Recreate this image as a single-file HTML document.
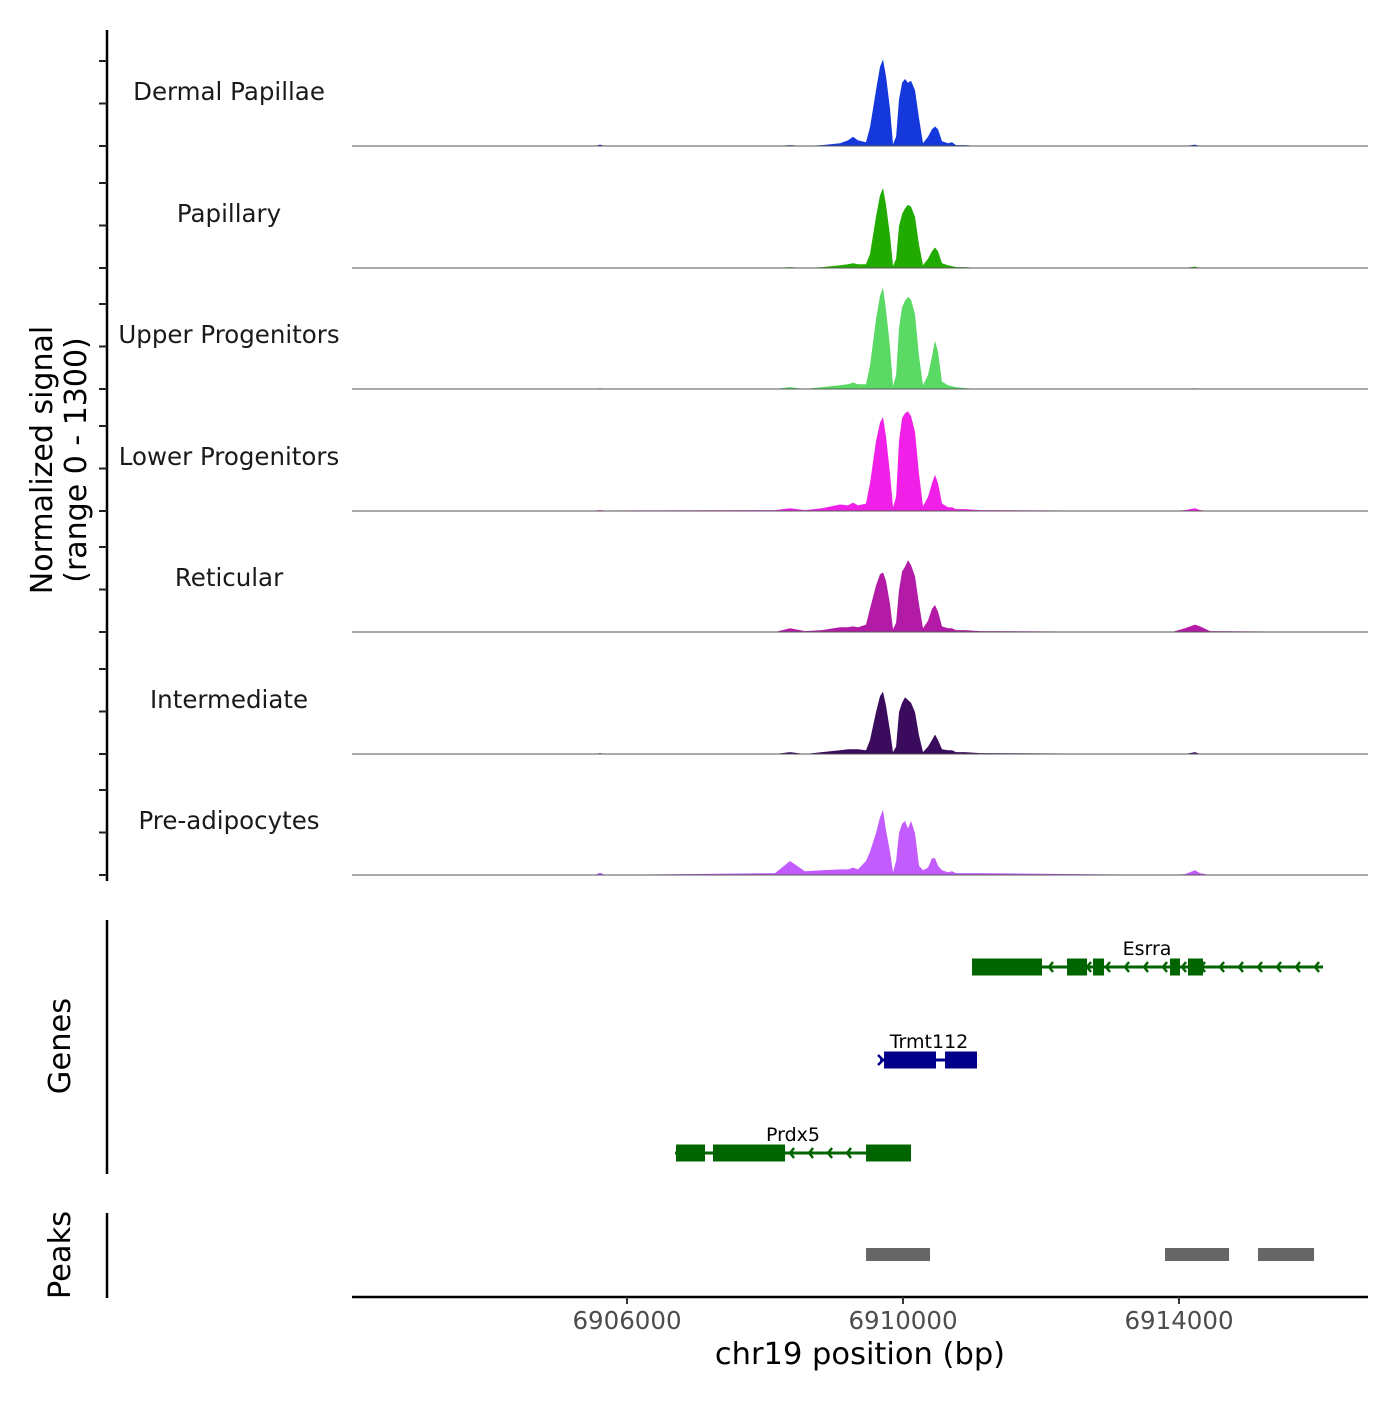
<!DOCTYPE html>
<html><head><meta charset="utf-8"><style>
body{margin:0;background:#fff;}
svg text{font-family:"DejaVu Sans","Liberation Sans",sans-serif;}
</style></head><body>
<svg id="chart" xmlns="http://www.w3.org/2000/svg" width="1400" height="1400" viewBox="0 0 1400 1400">
<rect width="1400" height="1400" fill="#fff"/>
<g id="tracks"></g>
<g id="genes"></g>
<g id="peaks"></g>
<g id="axes"></g>
</svg>
<script>
const trackNames = ["Dermal Papillae","Papillary","Upper Progenitors","Lower Progenitors","Reticular","Intermediate","Pre-adipocytes"];
const trackColors = ["#1438dc","#21ab00","#5ad964","#f020e8","#b31aa6","#3b0c5e","#c25cff"];
const positions = [6902014,6905536,6905609,6905681,6908145,6908362,6908580,6908826,6909087,6909203,6909275,6909348,6909464,6909522,6909609,6909667,6909710,6909754,6909812,6909855,6909899,6909942,6909986,6910029,6910072,6910116,6910174,6910232,6910290,6910362,6910420,6910464,6910507,6910565,6910652,6910710,6910768,6910899,6911116,6913900,6914087,6914232,6914304,6914449,6916739];
const sigDermal = [0,0,15,0,0,10,0,10,30,60,100,60,40,200,600,850,930,750,400,20,100,500,680,720,680,700,600,300,30,100,180,210,180,50,30,40,10,10,0,0,0,15,0,0,0];
const sigPapillary = [0,0,5,0,0,10,0,10,30,40,50,40,40,150,550,780,860,680,350,20,100,450,580,640,680,660,550,250,30,100,180,220,180,50,30,20,10,10,0,0,0,15,0,0,0];
const sigUpper = [0,0,10,0,0,20,0,20,40,50,70,50,50,250,750,1000,1090,850,450,30,150,650,880,950,990,960,800,350,40,150,350,520,400,80,40,30,20,10,0,0,0,10,0,0,0];
const sigLower = [0,5,10,5,10,30,10,30,70,60,90,60,80,300,750,950,1010,800,400,40,150,750,1000,1050,1070,1020,850,400,50,150,300,390,300,80,40,40,20,20,10,0,10,30,10,0,0];
const sigReticular = [0,0,5,0,0,40,10,20,50,50,60,50,80,250,500,620,640,550,300,30,100,450,650,700,770,720,600,300,40,120,250,290,220,60,40,40,20,20,10,0,40,80,60,10,0];
const sigIntermediate = [0,0,10,0,0,20,0,20,40,50,50,50,40,150,450,620,670,520,250,20,80,450,550,610,580,550,450,200,20,80,150,210,150,50,40,40,20,20,10,0,0,20,0,0,0];
const sigPreadipo = [0,0,25,0,20,150,40,50,60,60,80,60,150,250,450,620,700,480,250,30,150,450,550,580,500,580,450,100,50,80,180,180,100,50,30,40,20,20,20,0,10,50,20,0,0];
const signals = [sigDermal,sigPapillary,sigUpper,sigLower,sigReticular,sigIntermediate,sigPreadipo];
const xTicks = [6906000,6910000,6914000];
const xTickLabels = ["6906000","6910000","6914000"];
const geneNames = ["Esrra","Trmt112","Prdx5"];
const geneStarts = [6911000,6909667,6906696];
const geneEnds = [6916087,6911072,6910116];
const geneColors = ["#006400","#00008b","#006400"];
const geneExons = [
 [[6911000,6912014],[6912377,6912667],[6912754,6912913],[6913870,6914014],[6914130,6914348]],
 [[6909725,6910478],[6910609,6911072]],
 [[6906710,6907130],[6907246,6908290],[6909464,6910116]]
];
const peakStarts = [6909464,6913797,6915145];
const peakEnds = [6910391,6914725,6915957];

const NS="http://www.w3.org/2000/svg";
const X0=352,X1=1368,BP0=6902014,BP1=6916739;
function xs(bp){return X0+(bp-BP0)/(BP1-BP0)*(X1-X0);}
function ys(v){return v*121/1300;}
function el(tag,attrs,parent){const e=document.createElementNS(NS,tag);for(const k in attrs)e.setAttribute(k,attrs[k]);parent.appendChild(e);return e;}
const tracks=document.getElementById('tracks');
const baselines=[146,268,389,511,632,754,875];
trackNames.forEach((name,i)=>{
  const b=baselines[i];
  let d="M"+xs(positions[0])+","+b;
  signals[i].forEach((v,j)=>{d+=" L"+xs(positions[j]).toFixed(1)+","+(b-ys(v)).toFixed(1);});
  d+=" L"+xs(positions[positions.length-1])+","+b+" Z";
  const p=el('path',{d:d,fill:trackColors[i]},tracks);
  
  
  const bl=el('line',{x1:X0,x2:X1,y1:b,y2:b,stroke:'#555','stroke-width':1},tracks);
  
  
  const t=el('text',{x:229,y:b-46,'text-anchor':'middle','font-size':24.5,fill:'#1a1a1a'},tracks);
  t.textContent=name;
  
  
});
const genes=document.getElementById('genes');
const geneY=[967,1060,1153];
geneNames.forEach((g,i)=>{
  const y=geneY[i],c=geneColors[i];
  const grp=el('g',{},genes);
  
  
  el('line',{x1:xs(geneStarts[i]),x2:xs(geneEnds[i]),y1:y,y2:y,stroke:c,'stroke-width':3},grp);
  if(i!==1){
    const a0=xs(geneStarts[i]),a1=xs(geneEnds[i]);
    for(let x=a0+20;x<a1-5;x+=19){
      el('polyline',{points:(x+4)+","+(y-5)+" "+x+","+y+" "+(x+4)+","+(y+5),fill:'none',stroke:c,'stroke-width':2.5},grp);
    }
  } else {
    const x=xs(geneStarts[i]);
    el('path',{d:"M"+(x-2)+","+(y-5)+" L"+(x+3)+","+y+" L"+(x-2)+","+(y+5),fill:'none',stroke:c,'stroke-width':2.5},grp);
  }
  geneExons[i].forEach(e=>{
    el('rect',{x:xs(e[0]),y:y-8.5,width:xs(e[1])-xs(e[0]),height:17,fill:c},grp);
  });
  const lx=i===0?1147:(i===1?929:793);
  const t=el('text',{x:lx,y:y-12,'text-anchor':'middle','font-size':19,fill:'#000'},grp);
  t.textContent=g;
});
const peaks=document.getElementById('peaks');
peakStarts.forEach((s,i)=>{
  const r=el('rect',{x:xs(s),y:1248,width:xs(peakEnds[i])-xs(s),height:13,fill:'#666'},peaks);
  
  
});
const axes=document.getElementById('axes');
el('line',{x1:107,x2:107,y1:30,y2:881,stroke:'#000','stroke-width':2.5},axes);
baselines.forEach(b=>{[0,42.5,85].forEach(o=>{el('line',{x1:99,x2:107,y1:b-o,y2:b-o,stroke:'#222','stroke-width':2},axes);});});
el('line',{x1:107,x2:107,y1:920,y2:1174,stroke:'#000','stroke-width':2.5},axes);
el('line',{x1:107,x2:107,y1:1213,y2:1298,stroke:'#000','stroke-width':2.5},axes);
el('line',{x1:352,x2:1368,y1:1297,y2:1297,stroke:'#000','stroke-width':2.5},axes);
xTicks.forEach((t,i)=>{
  const x=xs(t);
  el('line',{x1:x,x2:x,y1:1297,y2:1304,stroke:'#333','stroke-width':2},axes);
  const tx=el('text',{x:x,y:1329,'text-anchor':'middle','font-size':24.5,fill:'#4d4d4d'},axes);
  tx.textContent=xTickLabels[i];
  
  
});
const xt=el('text',{x:860,y:1364,'text-anchor':'middle','font-size':30.5,fill:'#000'},axes);
xt.textContent="chr19 position (bp)";


const yt=el('text',{transform:'translate(52,460) rotate(-90)','text-anchor':'middle','font-size':30,fill:'#000'},axes);
yt.textContent="Normalized signal";


const yt2=el('text',{transform:'translate(86,460) rotate(-90)','text-anchor':'middle','font-size':30,fill:'#000'},axes);
yt2.textContent="(range 0 - 1300)";


const gt=el('text',{transform:'translate(70,1046) rotate(-90)','text-anchor':'middle','font-size':30.5,fill:'#000'},axes);
gt.textContent="Genes";


const pt=el('text',{transform:'translate(70,1255) rotate(-90)','text-anchor':'middle','font-size':30.5,fill:'#000'},axes);
pt.textContent="Peaks";


</script>
</body></html>
